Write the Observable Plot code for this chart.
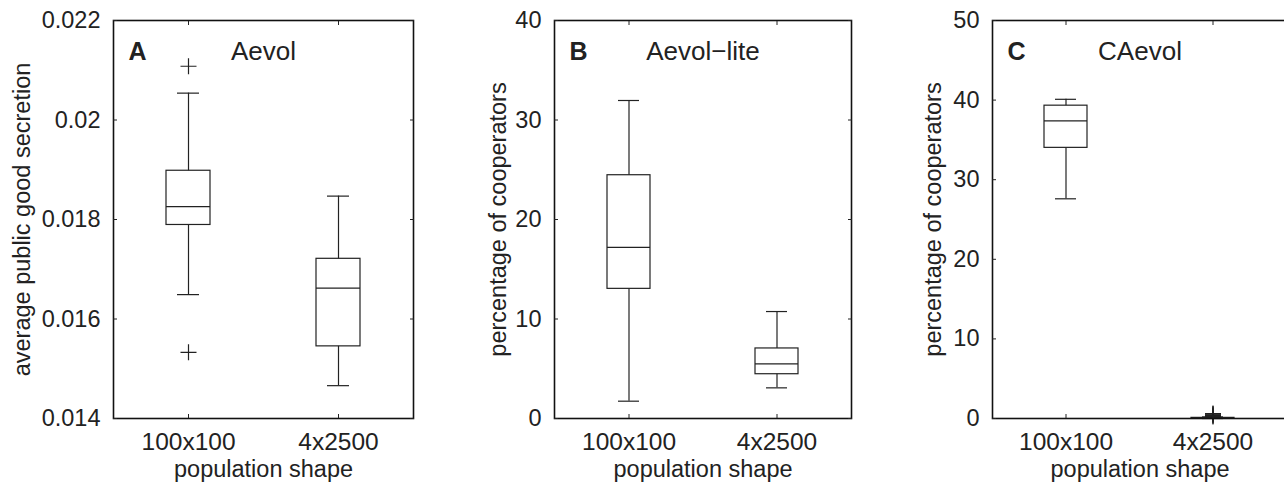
<!DOCTYPE html>
<html><head><meta charset="utf-8">
<script src="https://cdn.jsdelivr.net/npm/d3@7"></script>
<script src="https://cdn.jsdelivr.net/npm/@observablehq/plot@0.6"></script>
<style>
html,body{margin:0;padding:0;background:#fff;overflow:hidden;}
#wrap{position:relative;width:1284px;height:482px;overflow:hidden;}
#wrap > div{position:absolute;top:0;width:430px;height:482px;}
#wrap svg{overflow:visible;max-width:none !important;}
</style></head><body><div id="wrap"></div>
<script>
const categories = ["100x100", "4x2500"];
const xLabel = "population shape";

// Panel A — Aevol
const aevolLo = [0.01649, 0.01466];
const aevolQ1 = [0.01789, 0.01545];
const aevolMed = [0.01826, 0.01662];
const aevolQ3 = [0.01898, 0.01721];
const aevolHi = [0.02054, 0.01847];
const aevolOutliers = [[0.02108, 0.01533], []];
const aevolTicks = [0.014, 0.016, 0.018, 0.02, 0.022];
const aevolTickLabels = ["0.014", "0.016", "0.018", "0.02", "0.022"];

// Panel B — Aevol-lite
const liteLo = [1.74, 3.08];
const liteQ1 = [13.03, 4.45];
const liteMed = [17.2, 5.5];
const liteQ3 = [24.45, 7.04];
const liteHi = [31.96, 10.75];
const liteOutliers = [[], []];
const liteTicks = [0, 10, 20, 30, 40];
const liteTickLabels = ["0", "10", "20", "30", "40"];

// Panel C — CAevol
const caLo = [27.6, 0];
const caQ1 = [34.0, 0];
const caMed = [37.4, 0.03];
const caQ3 = [39.3, 0.08];
const caHi = [40.1, 0.2];
const caOutliers = [[], [0.25, 0.35, 0.45, 0.55, 0.63]];
const caTicks = [0, 10, 20, 30, 40, 50];
const caTickLabels = ["0", "10", "20", "30", "40", "50"];

const FONT = '"Liberation Sans", Arial, Helvetica, sans-serif';
const INK = "#222";
const plusSymbol = {
  draw(ctx, size) {
    const r = Math.sqrt(size / Math.PI);
    ctx.moveTo(-r, 0); ctx.lineTo(r, 0);
    ctx.moveTo(0, -r); ctx.lineTo(0, r);
  }
};

function panel(o) {
  const rows = categories.map((c, i) => ({cat: c, lo: o.lo[i], q1: o.q1[i], med: o.med[i], q3: o.q3[i], hi: o.hi[i]}));
  const outRows = categories.flatMap((c, i) => o.outliers[i].map(v => ({cat: c, v})));
  const fmt = d => o.tickLabels[o.ticks.indexOf(d)];
  const lw = 1.2;
  const plot = Plot.plot({
    width: o.width, height: 482,
    marginLeft: o.marginLeft, marginRight: o.marginRight, marginTop: 20, marginBottom: 64,
    style: {fontFamily: FONT, fontSize: "23.5px", color: INK, background: "transparent", overflow: "visible"},
    x: {type: "band", domain: categories, paddingInner: 0.7067, paddingOuter: 0.3533},
    y: {domain: o.domain},
    marks: [
      Plot.ruleX(rows, {x: "cat", y1: "lo", y2: "hi", stroke: INK, strokeWidth: lw}),
      Plot.barY(rows, {x: "cat", y1: "q1", y2: "q3", fill: "white", stroke: INK, strokeWidth: lw}),
      Plot.tickY(rows, {x: "cat", y: "med", stroke: INK, strokeWidth: lw}),
      Plot.tickY(rows, {x: "cat", y: "lo", inset: 11, stroke: INK, strokeWidth: lw}),
      Plot.tickY(rows, {x: "cat", y: "hi", inset: 11, stroke: INK, strokeWidth: lw}),
      Plot.dot(outRows, {x: "cat", y: "v", r: 8, symbol: plusSymbol, stroke: INK, fill: "none", strokeWidth: lw}),
      Plot.frame({stroke: "#111", strokeWidth: 1.6}),
      Plot.axisY({anchor: "left", ticks: o.ticks, tickFormat: fmt, tickSize: -4, tickPadding: 17, label: null}),
      Plot.axisY({anchor: "right", ticks: o.ticks, tickSize: -4, fill: "none", label: null}),
      Plot.axisX({anchor: "bottom", tickSize: -4, tickPadding: 18, label: null, fontSize: 24.5}),
      Plot.axisX({anchor: "top", tickSize: -4, fill: "none", label: null}),
      Plot.text([o.yLabel], {frameAnchor: "left", rotate: -90, dx: o.yLabelDx, textAnchor: "middle", lineAnchor: "middle", fill: INK, fontSize: 23.5}),
      Plot.text([xLabel], {frameAnchor: "bottom", dy: 58, textAnchor: "middle", lineAnchor: "bottom", fill: INK, fontSize: 23.5}),
      Plot.text([o.letter], {frameAnchor: "top-left", dx: 15, dy: 39, textAnchor: "start", lineAnchor: "bottom", fontWeight: "bold", fill: INK, fontSize: 25}),
      Plot.text([o.title], {frameAnchor: "top", dy: 39, textAnchor: "middle", lineAnchor: "bottom", fill: INK, fontSize: 26})
    ]
  });
  const holder = document.createElement("div");
  holder.style.left = o.left + "px";
  holder.appendChild(plot);
  document.getElementById("wrap").appendChild(holder);
}

panel({left: 0, width: 430, marginLeft: 113, marginRight: 17, domain: [0.014, 0.022],
  ticks: aevolTicks, tickLabels: aevolTickLabels, yLabel: "average public good secretion", yLabelDx: -91,
  letter: "A", title: "Aevol",
  lo: aevolLo, q1: aevolQ1, med: aevolMed, q3: aevolQ3, hi: aevolHi, outliers: aevolOutliers});

panel({left: 430, width: 430, marginLeft: 124, marginRight: 9, domain: [0, 40],
  ticks: liteTicks, tickLabels: liteTickLabels, yLabel: "percentage of cooperators", yLabelDx: -56,
  letter: "B", title: "Aevol\u2212lite",
  lo: liteLo, q1: liteQ1, med: liteMed, q3: liteQ3, hi: liteHi, outliers: liteOutliers});

panel({left: 860, width: 430, marginLeft: 132, marginRight: 3, domain: [0, 50],
  ticks: caTicks, tickLabels: caTickLabels, yLabel: "percentage of cooperators", yLabelDx: -59,
  letter: "C", title: "CAevol",
  lo: caLo, q1: caQ1, med: caMed, q3: caQ3, hi: caHi, outliers: caOutliers});
</script>
</body></html>
